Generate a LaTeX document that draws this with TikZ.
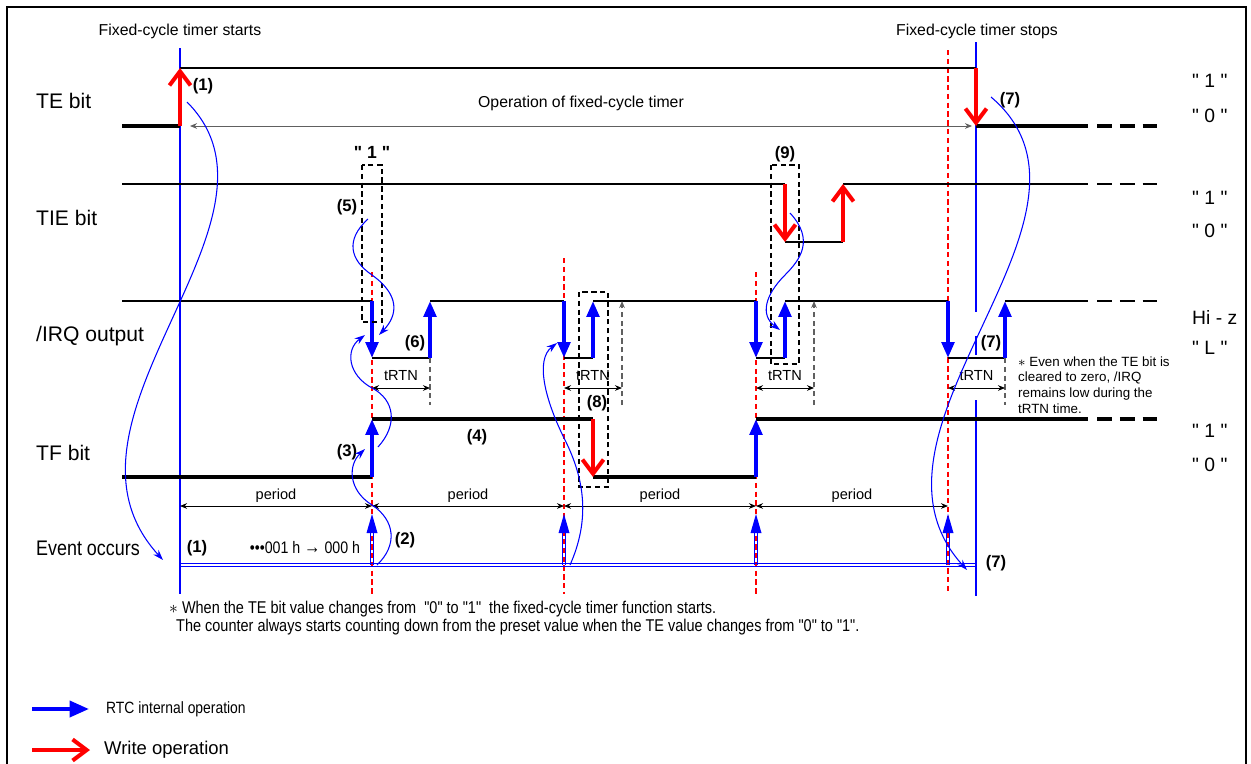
\documentclass[tikz,border=0pt]{standalone}
\usepackage{fontspec}
\setmainfont{Liberation Sans}[Ligatures=TeXOff]
\newfontfamily\narrowfont{Liberation Sans}[Ligatures=TeXOff,FakeStretch=0.85]
\usepackage{tikz}
\usetikzlibrary{arrows.meta}
\definecolor{rtcblue}{HTML}{0000FF}
\definecolor{wrred}{HTML}{FF0000}
\definecolor{guidegray}{HTML}{606060}

\begin{document}
\begin{tikzpicture}[x=0.02cm,y=-0.02cm,>={Stealth[length=4pt,width=3.2pt]},
  sig/.style={line width=1.1pt},
  sigthick/.style={line width=1.8pt},
  cont/.style={dash pattern=on 8.5pt off 4.5pt},
  rtc/.style={draw=rtcblue,line width=2.3pt,-{Triangle[length=9pt,width=7pt]}},
  wr/.style={draw=wrred,line width=2.3pt,-{Straight Barb[length=8pt,width=12pt]}},
  dim/.style={line width=0.5pt,<->},
  rdash/.style={draw=wrred,line width=0.6pt,dash pattern=on 3pt off 2pt},
  bmark/.style={draw=rtcblue,line width=0.6pt},
  guide/.style={draw=guidegray,line width=0.6pt,dash pattern=on 3pt off 2pt},
  dbox/.style={draw,line width=0.6pt,dash pattern=on 3pt off 2pt},
  flow/.style={draw=rtcblue,line width=0.6pt,-{Stealth[length=6pt,width=4pt]}},
  num/.style={font=\bfseries\fontsize{9.5}{11}\selectfont},
  lvl/.style={anchor=west,font=\fontsize{11}{13}\selectfont},
  sname/.style={anchor=west,font=\fontsize{12}{14}\selectfont},
  small/.style={font=\fontsize{8.3}{10}\selectfont},
  note/.style={anchor=west,font=\narrowfont\fontsize{9.7}{11}\selectfont}]

\useasboundingbox (0,0) rectangle (1251,764);
\fill[white] (0,0) rectangle (1251,764);
\draw[line width=1.2pt] (7,7) rectangle (1246,790);

% start / stop markers and event instants
\draw[bmark] (180,48) -- (180,594);
\draw[bmark] (976,42) -- (976,312) (976,336) -- (976,355) (976,400) -- (976,596);
\draw[rdash] (948,50) -- (948,594);
\foreach \x/\y in {372/272,564/258,756/272} \draw[rdash] (\x,\y) -- (\x,594);
\node[font=\fontsize{9}{11}\selectfont] (tstart) at (180,31) {Fixed-cycle timer starts};
\node[font=\fontsize{9}{11}\selectfont] (tstop) at (977,31) {Fixed-cycle timer stops};

% signal names
\node[sname] (te) at (30,101) {TE bit};
\node[sname] (tie) at (30,218) {TIE bit};
\node[sname] (irq) at (30,336) {/IRQ output};
\node[sname] (tf) at (30,453) {TF bit};
\node[sname,font=\narrowfont\fontsize{12}{14}\selectfont] (ev) at (30,548) {Event occurs};

% levels
\node[lvl] (te1) at (1186,81) {" 1 "};
\node[lvl] (te0) at (1186,116) {" 0 "};
\node[lvl] (tie1) at (1186,198) {" 1 "};
\node[lvl] (tie0) at (1186,231) {" 0 "};
\node[lvl] (irqh) at (1186,317) {Hi - z};
\node[lvl] (irql) at (1186,348) {" L "};
\node[lvl] (tf1) at (1186,431) {" 1 "};
\node[lvl] (tf0) at (1186,465) {" 0 "};

% TE bit
\draw[sigthick] (122,126) -- (180,126);
\draw[sig] (180,68) -- (976,68);
\draw[sigthick] (976,126) -- (1088,126);
\draw[sigthick,cont] (1097,126) -- (1157,126);
\draw[dim,draw=guidegray] (190,126) -- (972,126);
\node[font=\fontsize{9}{11}\selectfont] (op) at (581,103) {Operation of fixed-cycle timer};
\draw[wr] (180,126) -- (180,68);
\draw[wr] (976,68) -- (976,126);

% TIE bit
\draw[sig] (122,184) -- (785,184) (785,242) -- (843,242) (843,184) -- (1088,184);
\draw[sig,cont] (1097,184) -- (1157,184);
\draw[wr] (785,184) -- (785,242);
\draw[wr] (843,242) -- (843,184);

% /IRQ output
\draw[sig] (122,301) -- (372,301) (372,358) -- (430,358) (430,301) -- (564,301)
  (564,358) -- (593,358) (593,301) -- (756,301) (756,358) -- (785,358)
  (785,301) -- (948,301) (948,358) -- (1005,358) (1005,301) -- (1088,301);
\draw[sig,cont] (1097,301) -- (1157,301);
\foreach \x in {372,564,756,948} \draw[rtc] (\x,301) -- (\x,358);
\foreach \x in {430,593,785,1005} \draw[rtc] (\x,358) -- (\x,301);
\draw[guide] (430,358) -- (430,405) (1005,358) -- (1005,405);
\draw[guide,->] (622,405) -- (622,301);
\draw[guide,->] (814,405) -- (814,301);
\foreach \a/\b in {372/430,564/622,756/814,948/1005}{
  \draw[dim] (\a,388) -- (\b,388);
  \node[small] (trtn\a) at ({(\a+\b)/2},376) {tRTN};
}

% TF bit
\draw[sigthick] (122,477) -- (372,477) (372,419) -- (593,419) (593,477) -- (756,477) (756,419) -- (1088,419);
\draw[sigthick,cont] (1097,419) -- (1157,419);
\draw[rtc] (372,477) -- (372,419);
\draw[rtc] (756,477) -- (756,419);
\draw[wr] (593,419) -- (593,477);

% period
\foreach \a/\b in {180/372,372/564,564/756,756/948}{
  \draw[dim] (\a,506) -- (\b,506);
  \node[small] (per\a) at ({(\a+\b)/2},496) {period};
}

% event occurs
\draw[bmark] (180,563.5) -- (976,563.5) (180,566.8) -- (976,566.8);
\foreach \x in {372,564,756,948}{
  \draw[bmark] (\x-1.6,565) -- (\x-1.6,532) (\x+1.6,565) -- (\x+1.6,532);
  \fill[rtcblue] (\x,514) -- (\x-5.5,533) -- (\x+5.5,533) -- cycle;
}
\node[font=\narrowfont\fontsize{9.5}{11}\selectfont] (cnt) at (305,548) {•••001 h {\fontsize{11}{11}\selectfont→} 000 h};

% dashed frames
\draw[dbox] (362,165) rectangle (382,322);
\node[font=\bfseries\fontsize{10}{12}\selectfont] (one) at (372,152) {" 1 "};
\draw[dbox] (579,292) rectangle (608,487);
\draw[dbox] (771,165) rectangle (799,364);

% step numbers
\node[num] (n1) at (203,86) {(1)};
\node[num] (n7a) at (1010,100) {(7)};
\node[num] (n5) at (347,207) {(5)};
\node[num] (n6) at (415,343) {(6)};
\node[num] (n3) at (347,452) {(3)};
\node[num] (n4) at (477,437) {(4)};
\node[num] (n8) at (597,403) {(8)};
\node[num] (n9) at (785,154) {(9)};
\node[num] (n7b) at (991,343) {(7)};
\node[num] (n1b) at (197,548) {(1)};
\node[num] (n2) at (405,540) {(2)};
\node[num] (n7c) at (996,563) {(7)};

% flow of the operation
\draw[flow] (187,102) .. controls (305,220) and (35,420) .. (163,560);
\draw[flow] (368,219) .. controls (345,240) and (350,260) .. (372,275) .. controls (400,295) and (398,315) .. (379,335);
\draw[flow] (377,565) .. controls (398,545) and (395,520) .. (372,505) .. controls (348,490) and (348,465) .. (365,449);
\draw[flow] (378,447) .. controls (398,425) and (395,400) .. (372,388) .. controls (348,375) and (345,350) .. (365,335);
\draw[flow] (570,565) .. controls (590,520) and (585,480) .. (565,440) .. controls (545,400) and (535,360) .. (557,343);
\draw[flow] (790,213) .. controls (815,240) and (800,260) .. (785,275) .. controls (765,295) and (760,315) .. (780,330);
\draw[flow] (991,97) .. controls (1130,215) and (840,430) .. (967,570);

% notes
\node[anchor=west,align=left,font=\fontsize{7.6}{8.9}\selectfont] (side) at (1012,385)
  {$\ast$ Even when the TE bit is\\cleared to zero, /IRQ\\remains low during the\\tRTN time.};
\node[note] (foot1) at (163,609) {$\ast$ When the TE bit value changes from\ \ "0" to "1"\ \ the fixed-cycle timer function starts.};
\node[note] (foot2) at (170,627) {The counter always starts counting down from the preset value when the TE value changes from "0" to "1".};

% legend
\coordinate (lb0) at (32,709);
\coordinate (lb1) at (89,709);
\coordinate (lr0) at (32,750);
\coordinate (lr1) at (90,750);
\draw[rtc,-{Triangle[length=11pt,width=9pt]}] (lb0) -- (lb1);
\draw[wr] (lr0) -- (lr1);
\node[note,font=\narrowfont\fontsize{9.3}{11}\selectfont] (lbt) at (100,709) {RTC internal operation};
\node[anchor=west,font=\fontsize{10.5}{12}\selectfont] (lrt) at (98,750) {Write operation};
\end{tikzpicture}
\end{document}
